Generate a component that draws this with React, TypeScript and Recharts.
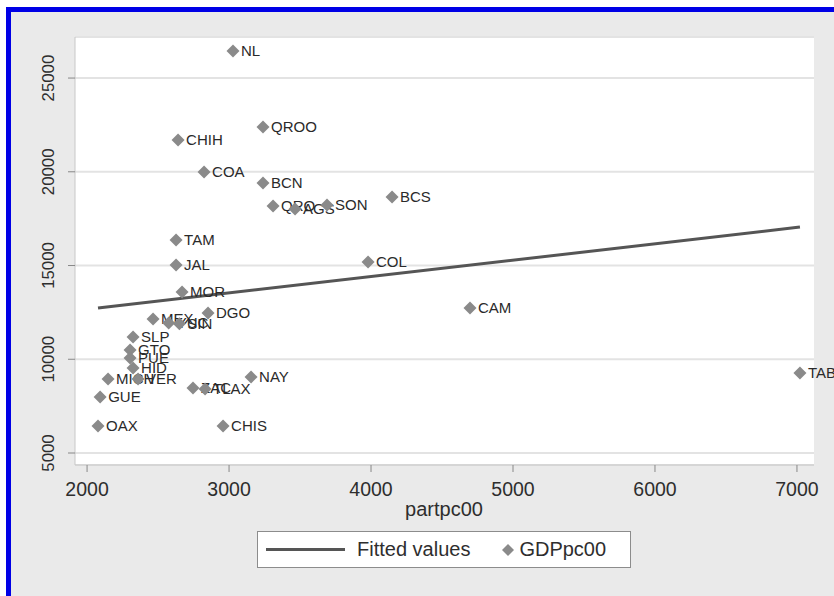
import React from 'react'
import { ScatterChart, Scatter, XAxis, YAxis, CartesianGrid } from 'recharts'

// Mexican states, 2000: federal transfers per capita vs GDP per capita
const states = [
  'NL', 'QROO', 'CHIH', 'COA', 'BCN', 'BCS', 'QRO', 'AGS', 'SON', 'TAM', 'JAL', 'COL',
  'CAM', 'TAB', 'MOR', 'DGO', 'MEX', 'YUC', 'SIN', 'SLP', 'GTO', 'PUE', 'HID', 'MICH',
  'VER', 'GUE', 'OAX', 'CHIS', 'ZAC', 'TLAX', 'NAY',
]
const partpc00 = [
  3028, 3239, 2641, 2824, 3239, 4148, 3310, 3465, 3690, 2627, 2627, 3979,
  4697, 7021, 2669, 2852, 2465, 2575, 2650, 2324, 2303, 2303, 2324, 2148,
  2359, 2092, 2077, 2958, 2746, 2831, 3155,
]
const gdppc00 = [
  26440, 22387, 21693, 19987, 19400, 18653, 18173, 18013, 18227, 16360, 15027, 15187,
  12733, 9267, 13587, 12467, 12147, 11933, 11900, 11187, 10493, 10067, 9533, 8947,
  8947, 7987, 6440, 6440, 8467, 8413, 9053,
]

// lfit endpoints
const fitX = [2077, 7021]
const fitY = [12730, 17050]

const xTicks = [2000, 3000, 4000, 5000, 6000, 7000]
const yTicks = [5000, 10000, 15000, 20000, 25000]

const points = states.map((name, i) => ({ name, x: partpc00[i], y: gdppc00[i] }))
const fitted = fitX.map((x, i) => ({ x, y: fitY[i] }))

const FONT = '"Liberation Sans", Arial, Helvetica, sans-serif'
const MARKER = '#8a8a8a'
const LINE = '#555'
const TEXT = '#2e2e2e'

const StateMarker = (props: any) => {
  const { cx, cy, payload } = props
  const r = 6.5
  return (
    <g>
      <polygon
        points={`${cx},${cy - r} ${cx + r},${cy} ${cx},${cy + r} ${cx - r},${cy}`}
        fill={MARKER}
      />
      <text x={cx + 8} y={cy} dy="0.36em" fontSize={15} fill="#2a2a2a" fontFamily={FONT}>
        {payload.name}
      </text>
    </g>
  )
}

const XTick = (props: any) => {
  const { x, y, payload } = props
  return (
    <text x={x} y={y} dy={22} textAnchor="middle" fontSize={19.5} fill={TEXT} fontFamily={FONT}>
      {payload.value}
    </text>
  )
}

const YTick = (props: any) => {
  const { x, y, payload } = props
  const bx = x - 12
  return (
    <text
      x={bx}
      y={y}
      transform={`rotate(-90, ${bx}, ${y})`}
      textAnchor="middle"
      fontSize={16.8}
      fill={TEXT}
      fontFamily={FONT}
    >
      {payload.value}
    </text>
  )
}

export default function App() {
  return (
    <div
      style={{
        position: 'absolute',
        left: 0,
        top: 0,
        width: 834,
        height: 596,
        overflow: 'hidden',
        background: '#fff',
        fontFamily: FONT,
      }}
    >
      <div
        style={{
          position: 'absolute',
          left: 6,
          top: 7,
          width: 840,
          height: 600,
          borderLeft: '5px solid #0000e6',
          borderTop: '5px solid #0000e6',
          background: '#eaeaea',
        }}
      />
      <div style={{ position: 'absolute', left: 0, top: 0 }}>
        <ScatterChart
          width={834}
          height={596}
          margin={{ top: 37, right: 20, left: 0, bottom: 101 }}
        >
          <CartesianGrid
            vertical={false}
            fill="#fff"
            stroke="#e3e3e3"
            strokeWidth={2}
          />
          <XAxis
            type="number"
            dataKey="x"
            domain={[1915, 7120]}
            ticks={xTicks}
            height={30}
            tickSize={7}
            tickLine={{ stroke: '#888' }}
            axisLine={{ stroke: '#c8c8c8' }}
            tick={<XTick />}
          />
          <YAxis
            type="number"
            dataKey="y"
            domain={[4360, 27190]}
            ticks={yTicks}
            width={75}
            tickSize={7}
            tickLine={{ stroke: '#888' }}
            axisLine={{ stroke: '#c8c8c8' }}
            tick={<YTick />}
          />
          <Scatter
            data={fitted}
            line={{ stroke: LINE, strokeWidth: 3 }}
            shape={() => <g />}
            isAnimationActive={false}
          />
          <Scatter data={points} shape={<StateMarker />} isAnimationActive={false} />
        </ScatterChart>
      </div>
      <div
        style={{
          position: 'absolute',
          left: 244,
          width: 400,
          top: 497,
          textAlign: 'center',
          fontSize: 20,
          color: TEXT,
          lineHeight: '24px',
        }}
      >
        partpc00
      </div>
      <div
        style={{
          position: 'absolute',
          left: 257,
          top: 531,
          width: 374,
          height: 37,
          boxSizing: 'border-box',
          border: '1px solid #8c8c8c',
          background: '#fff',
          display: 'flex',
          alignItems: 'center',
          fontSize: 20,
          color: TEXT,
        }}
      >
        <div style={{ marginLeft: 8, width: 79, height: 3, background: LINE }} />
        <span style={{ marginLeft: 12 }}>Fitted values</span>
        <svg width={12} height={12} style={{ marginLeft: 32 }}>
          <polygon points="6,0 12,6 6,12 0,6" fill={MARKER} />
        </svg>
        <span style={{ marginLeft: 5 }}>GDPpc00</span>
      </div>
    </div>
  )
}
